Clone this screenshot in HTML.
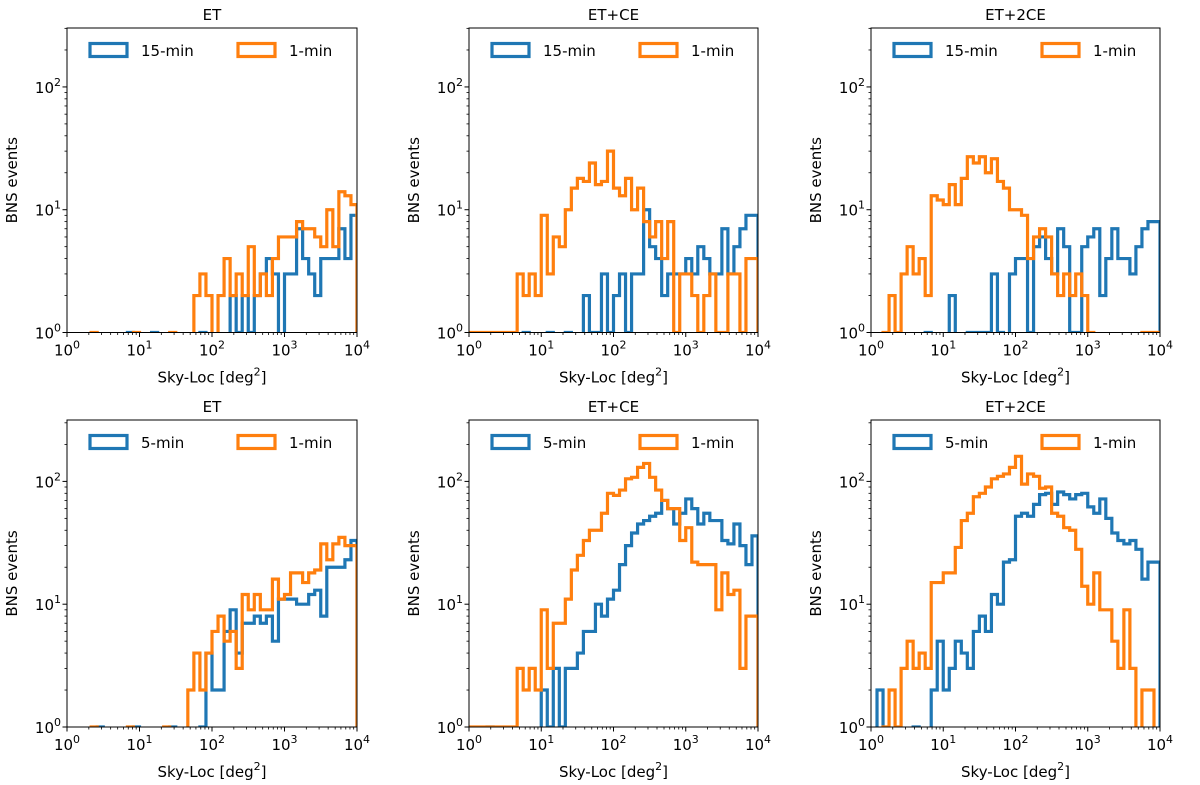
<!DOCTYPE html>
<html><head><meta charset="utf-8"><style>
body{margin:0;background:#fff}
svg{display:block;font-family:"DejaVu Sans","Liberation Sans",sans-serif}
</style></head><body>
<svg id="fig" width="1200" height="785" viewBox="0 0 1200 785" xmlns="http://www.w3.org/2000/svg"></svg>
<script>
const titles=["ET","ET+CE","ET+2CE","ET","ET+CE","ET+2CE"];
const legendBlue=["15-min","15-min","15-min","5-min","5-min","5-min"];
const legendOrange=["1-min","1-min","1-min","1-min","1-min","1-min"];
const xTickExp=[0,1,2,3,4];
const yTickExp=[0,1,2];
const nBins=48;
const blue1=[0,0,0,0,0,0,0,0,0,0,1,0,0,0,1,0,0,0,0,0,0,0,1,0,0,0,0,2,1,2,1,2,3,4,3,0,3,3,7,4,3,2,4,4,4,7,4,9];
const orange1=[0,0,0,0,1,0,0,0,0,0,0,1,0,0,0,0,0,1,0,0,0,2,3,2,0,2,4,2,3,2,5,2,3,2,4,6,6,6,8,7,7,6,5,10,5,14,13,11];
const blue2=[0,0,0,0,0,0,0,0,0,1,0,0,0,1,0,0,1,0,0,2,1,1,3,1,2,3,1,3,3,10,5,4,2,3,3,3,4,3,5,4,3,3,7,3,5,7,9,9];
const orange2=[1,1,1,1,1,1,1,1,3,2,3,2,9,3,6,5,10,15,18,17,24,16,17,30,15,13,18,10,15,8,6,8,4,8,1,3,3,2,1,2,3,1,1,3,3,1,4,4];
const blue3=[0,0,0,0,0,0,0,0,0,1,0,0,0,2,0,0,1,1,1,1,3,1,0,3,4,4,1,5,6,4,3,7,5,1,1,5,6,7,2,4,7,4,4,3,5,7,8,8];
const orange3=[0,0,1,2,1,3,5,3,4,2,13,12,11,16,11,18,27,24,27,20,26,17,15,10,10,9,4,6,7,6,3,2,3,2,3,2,1,0,0,0,0,0,0,0,0,1,1,1];
const blue4=[0,0,0,0,0,1,0,0,0,0,0,1,0,0,0,0,0,1,0,0,0,0,1,4,2,2,6,9,4,7,7,8,7,8,5,11,11,11,10,10,12,13,8,20,20,20,23,33];
const orange4=[0,0,0,0,1,0,0,0,0,0,1,0,0,0,0,0,1,0,0,0,2,4,2,4,6,8,5,6,3,12,9,12,9,9,16,11,12,18,18,15,18,19,31,23,31,35,30,30];
const blue5=[0,0,0,1,0,0,0,0,0,0,0,0,2,1,3,1,3,3,4,6,6,10,8,11,13,21,30,38,45,48,52,55,70,60,45,55,72,60,45,55,48,48,33,31,45,30,21,36];
const orange5=[1,1,1,1,1,1,1,1,3,2,3,2,9,3,7,7,11,19,25,33,40,40,55,80,77,85,105,108,130,140,108,85,70,60,60,33,42,22,21,21,21,9,18,12,13,3,8,8];
const blue6=[0,2,0,0,0,0,0,1,0,0,2,5,2,3,5,4,3,6,8,6,12,10,22,23,52,55,52,65,78,80,65,82,78,72,78,80,62,55,72,50,38,33,31,33,28,16,22,22];
const orange6=[0,0,1,2,1,3,5,3,4,3,15,15,18,18,29,48,55,75,80,90,105,110,115,130,160,95,115,110,88,90,55,52,42,40,28,14,10,18,9,9,5,3,9,3,0,2,2,0];
const seriesBlue=[blue1,blue2,blue3,blue4,blue5,blue6];
const seriesOrange=[orange1,orange2,orange3,orange4,orange5,orange6];

const NS="http://www.w3.org/2000/svg";
const svg=document.getElementById('fig');
function mk(tag,attrs,parent){const e=document.createElementNS(NS,tag);for(const k in attrs)e.setAttribute(k,attrs[k]);(parent||svg).appendChild(e);return e;}
const cols=[[67,357],[469,758],[871,1160]];
const rows=[[28,332.5,2.48],[420,727,2.5]];
const BLUE="#1f77b4",ORANGE="#ff7f0e";
const FS=15;

for(let p=0;p<6;p++){
  const [x0,x1]=cols[p%3];const [y0,y1,ymaxExp]=rows[Math.floor(p/3)];
  const sx=v=>x0+(Math.log10(v)-0)/4*(x1-x0);
  const sy=v=>v<=0?y1+20:y1-(Math.log10(v)/ymaxExp)*(y1-y0);
  const g=mk('g',{});
  
  
  const cp=mk('clipPath',{id:'cp'+p},g);
  mk('rect',{x:x0,y:y0,width:x1-x0,height:y1-y0},cp);
  [[seriesBlue[p],BLUE,'blue'],[seriesOrange[p],ORANGE,'orange']].forEach(([arr,c,nm])=>{
    let d='';
    for(let i=0;i<nBins;i++){
      const ea=Math.pow(10,4*i/nBins),eb=Math.pow(10,4*(i+1)/nBins);
      const y=sy(arr[i]);
      if(i===0)d+=`M${sx(ea)},${y1+20}`;
      d+=`L${sx(ea)},${y}L${sx(eb)},${y}`;
    }
    d+=`L${x1},${y1+20}`;
    const path=mk('path',{d:d,fill:'none',stroke:c,'stroke-width':3.2,'stroke-linejoin':'miter','clip-path':`url(#cp${p})`},g);
    
    
  });
  const frame=mk('rect',{x:x0,y:y0,width:x1-x0,height:y1-y0,fill:'none',stroke:'#000','stroke-width':1},g);
  
  
  for(let e=0;e<4;e++)for(let m=2;m<10;m++){const x=sx(m*Math.pow(10,e));mk('line',{x1:x,x2:x,y1:y1,y2:y1+2.5,stroke:'#000','stroke-width':0.8},g);}
  xTickExp.forEach(e=>{const x=sx(Math.pow(10,e));mk('line',{x1:x,x2:x,y1:y1,y2:y1+4.5,stroke:'#000','stroke-width':1},g);
    const t=mk('text',{x:x,y:y1+23,'text-anchor':'middle','font-size':FS},g);
    
    
    t.innerHTML=`10<tspan dy="-7" font-size="11">${e}</tspan>`;});
  for(let e=0;e<3;e++)for(let m=2;m<10;m++){const v=m*Math.pow(10,e);if(Math.log10(v)>ymaxExp)continue;const y=sy(v);mk('line',{x1:x0,x2:x0-2.5,y1:y,y2:y,stroke:'#000','stroke-width':0.8},g);}
  yTickExp.forEach(e=>{const y=sy(Math.pow(10,e));mk('line',{x1:x0,x2:x0-4.5,y1:y,y2:y,stroke:'#000','stroke-width':1},g);
    const t=mk('text',{x:x0-6,y:y+6,'text-anchor':'end','font-size':FS},g);
    
    
    t.innerHTML=`10<tspan dy="-7" font-size="11">${e}</tspan>`;});
  const xl=mk('text',{x:(x0+x1)/2,y:y1+50,'text-anchor':'middle','font-size':FS},g);
  
  
  xl.innerHTML='Sky-Loc [deg<tspan dy="-7" font-size="11">2</tspan><tspan dy="7">]</tspan>';
  const yl=mk('text',{x:0,y:0,'text-anchor':'middle','font-size':FS,transform:`translate(${x0-50},${(y0+y1)/2}) rotate(-90)`},g);
  
  
  yl.textContent='BNS events';
  const tt=mk('text',{x:(x0+x1)/2,y:y0-8,'text-anchor':'middle','font-size':FS},g);
  
  
  tt.textContent=titles[p];
  const lg=mk('g',{},g);
  
  
  mk('rect',{x:x0+23,y:y0+15.5,width:37,height:13,fill:'none',stroke:BLUE,'stroke-width':3.2},lg);
  const lt1=mk('text',{x:x0+74,y:y0+28,'font-size':FS},lg);
  
  
  lt1.textContent=legendBlue[p];
  mk('rect',{x:x0+171,y:y0+15.5,width:37,height:13,fill:'none',stroke:ORANGE,'stroke-width':3.2},lg);
  const lt2=mk('text',{x:x0+222,y:y0+28,'font-size':FS},lg);
  
  
  lt2.textContent=legendOrange[p];
}
</script>
</body></html>
